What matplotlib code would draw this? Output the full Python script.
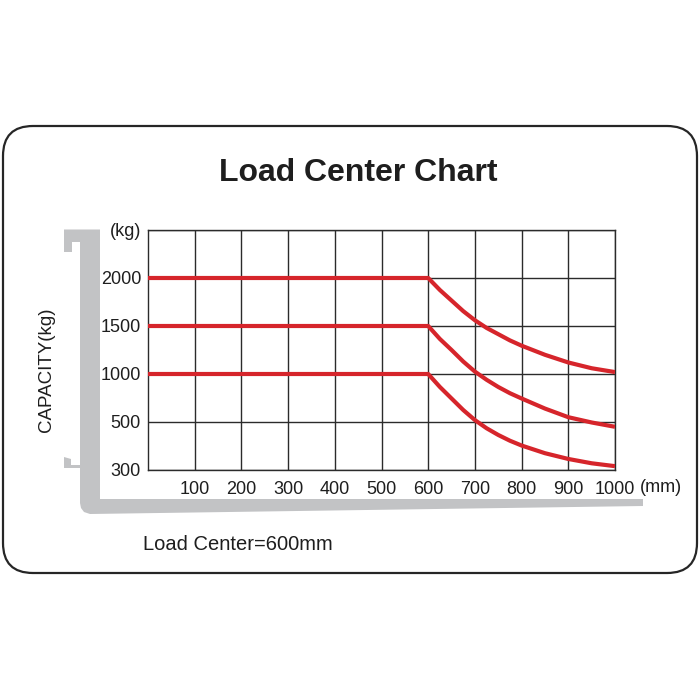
"""
Load center chart for a forklift fork: capacity (kg) against load center (mm).
"""

import matplotlib
matplotlib.use("Agg")
import matplotlib.pyplot as plt
import numpy as np
from matplotlib.patches import FancyBboxPatch, Polygon


# --- data ---
load_center_mm = [0, 600, 625, 650, 675, 700, 725, 750, 775, 800, 850, 900, 950, 1000]
cap_2000 = [2000, 2000, 1875, 1765, 1655, 1560, 1480, 1415, 1350, 1295, 1200, 1120, 1060, 1020]
cap_1500 = [1500, 1500, 1365, 1250, 1130, 1025, 940, 865, 800, 745, 640, 550, 498, 480]
cap_1000 = [1000, 1000, 865, 745, 625, 520, 474, 446, 422, 402, 370, 346, 328, 316]

x_ticks = [100, 200, 300, 400, 500, 600, 700, 800, 900, 1000]
y_ticks_kg = [300, 500, 1000, 1500, 2000, 2500]
y_tick_labels = ["300", "500", "1000", "1500", "2000", "(kg)"]

RED = "#d6252b"
GRID = "#2b2b2b"
FORK = "#c2c3c5"
TEXT = "#1e1e1e"

FONT = ["Liberation Sans", "DejaVu Sans"]

# the capacity axis is evenly spaced by label, not by value
y_pos = np.arange(len(y_ticks_kg))


def kg_to_pos(v):
    return np.interp(v, y_ticks_kg, y_pos)


def pos_to_kg(p):
    return np.interp(p, y_pos, y_ticks_kg)


fig = plt.figure(figsize=(7, 7), dpi=100)

# background layer in pixel units: frame, fork outline and free text
bg = fig.add_axes([0, 0, 1, 1], zorder=-1)
bg.set_xlim(0, 700)
bg.set_ylim(700, 0)
bg.axis("off")

frame = FancyBboxPatch((3, 126), 694, 447,
                       boxstyle="round,pad=0,rounding_size=30",
                       facecolor="white", edgecolor="#262626", linewidth=1.6)
bg.add_patch(frame)

fork = Polygon([(64, 229.5), (100, 229.5), (100, 499), (643, 499), (643, 506),
                (90, 514), (84, 512), (81, 508), (80, 503), (80, 468),
                (64, 468), (64, 457), (71, 459), (71, 465), (80, 465),
                (80, 242), (72, 242), (72, 252), (64, 252)],
               closed=True, facecolor=FORK, edgecolor="none")
bg.add_patch(fork)

bg.text(358, 181, "Load Center Chart", ha="center", va="baseline",
        fontsize=23, fontweight="bold", color=TEXT, family=FONT)
bg.text(143, 550, "Load Center=600mm", ha="left", va="baseline",
        fontsize=14.5, color=TEXT, family=FONT)
bg.text(46, 370, "CAPACITY(kg)", ha="center", va="center", rotation=90,
        fontsize=13.5, color=TEXT, family=FONT)
bg.text(640, 487, "(mm)", ha="left", va="center",
        fontsize=13, color=TEXT, family=FONT)

# chart
ax = fig.add_axes([148 / 700, 1 - 470 / 700, 467 / 700, 240 / 700])
ax.set_yscale("function", functions=(kg_to_pos, pos_to_kg))
ax.set_xlim(0, 1000)
ax.set_ylim(300, 2500)

for caps in (cap_2000, cap_1500, cap_1000):
    ax.plot(load_center_mm, caps, color=RED, linewidth=3,
            solid_joinstyle="round", solid_capstyle="butt", zorder=3)

ax.set_xticks(x_ticks)
ax.set_yticks(y_ticks_kg)
ax.set_yticklabels(y_tick_labels)
ax.yaxis.set_minor_locator(matplotlib.ticker.NullLocator())
ax.grid(True, color=GRID, linewidth=1.0)
ax.tick_params(length=0, labelsize=13, labelcolor=TEXT)
ax.tick_params(axis="x", pad=8)
ax.tick_params(axis="y", pad=5)
for lab in ax.get_xticklabels() + ax.get_yticklabels():
    lab.set_family(FONT)
for sp in ax.spines.values():
    sp.set_color(GRID)
    sp.set_linewidth(1.0)

fig.savefig("out.png", dpi=100)
